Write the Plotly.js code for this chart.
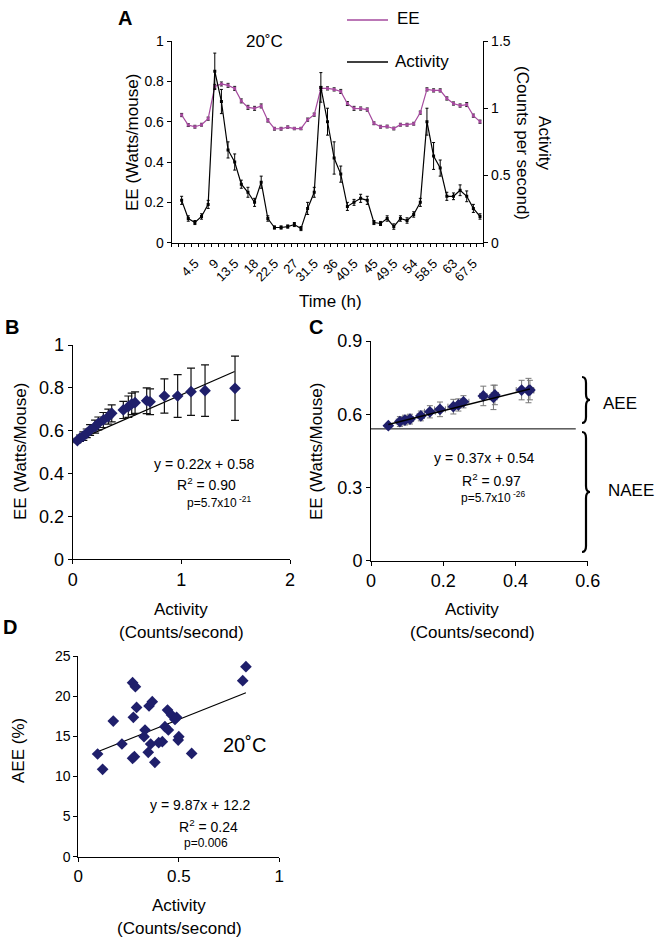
<!DOCTYPE html>
<html><head><meta charset="utf-8">
<script src="https://cdn.plot.ly/plotly-3.0.1.min.js"></script>
<style>html,body{margin:0;padding:0;background:#fff}#g{width:661px;height:942px}</style>
</head><body><div id="g"></div>
<script>
// ---------- Panel A data ----------
const timeH = [1.5,3,4.5,6,7.5,9,10.5,12,13.5,15,16.5,18,19.5,21,22.5,24,25.5,27,28.5,30,31.5,33,34.5,36,37.5,39,40.5,42,43.5,45,46.5,48,49.5,51,52.5,54,55.5,57,58.5,60,61.5,63,64.5,66,67.5,69];
const timeTicks = [4.5,9,13.5,18,22.5,27,31.5,36,40.5,45,49.5,54,58.5,63,67.5];
const eeA = [0.633,0.583,0.575,0.585,0.615,0.775,0.787,0.78,0.765,0.703,0.671,0.666,0.678,0.606,0.565,0.565,0.573,0.566,0.566,0.61,0.635,0.765,0.765,0.76,0.75,0.69,0.666,0.665,0.66,0.592,0.575,0.576,0.566,0.585,0.585,0.59,0.645,0.76,0.755,0.755,0.715,0.69,0.68,0.685,0.63,0.6];
const eeAerr = [0.008,0.007,0.007,0.007,0.008,0.01,0.01,0.01,0.01,0.01,0.01,0.01,0.01,0.008,0.007,0.007,0.006,0.006,0.006,0.008,0.008,0.01,0.008,0.008,0.01,0.01,0.01,0.008,0.008,0.007,0.007,0.007,0.007,0.007,0.007,0.007,0.008,0.008,0.008,0.008,0.008,0.008,0.008,0.01,0.008,0.008];
const actA = [0.315,0.18,0.15,0.195,0.285,1.275,1.05,0.69,0.6,0.435,0.375,0.3,0.45,0.18,0.113,0.113,0.12,0.135,0.105,0.255,0.375,1.155,0.9,0.63,0.51,0.27,0.3,0.33,0.315,0.15,0.143,0.18,0.12,0.18,0.165,0.21,0.3,0.9,0.645,0.555,0.345,0.345,0.39,0.345,0.255,0.195];
const actAerr = [0.03,0.02,0.015,0.02,0.03,0.135,0.09,0.06,0.06,0.03,0.037,0.03,0.045,0.02,0.012,0.012,0.012,0.015,0.015,0.045,0.037,0.11,0.1,0.12,0.06,0.03,0.022,0.03,0.03,0.015,0.015,0.02,0.02,0.02,0.02,0.02,0.03,0.1,0.1,0.06,0.03,0.025,0.04,0.04,0.03,0.02];

// ---------- Panel B data ----------
const actB = [0.043,0.067,0.098,0.129,0.16,0.206,0.236,0.282,0.328,0.359,0.466,0.512,0.543,0.574,0.681,0.712,0.844,0.966,1.089,1.218,1.494];
const eeB  = [0.554,0.565,0.575,0.588,0.603,0.619,0.634,0.65,0.666,0.681,0.697,0.712,0.725,0.731,0.74,0.735,0.762,0.762,0.782,0.787,0.798];
const eeBerr = [0.01,0.015,0.02,0.02,0.025,0.03,0.03,0.035,0.035,0.04,0.04,0.05,0.05,0.05,0.06,0.06,0.08,0.1,0.11,0.12,0.15];
const fitBx = [0.04,1.49];
const fitBy = [0.555,0.876];

// ---------- Panel C data ----------
const actC = [0.048,0.08,0.094,0.108,0.138,0.163,0.191,0.228,0.242,0.256,0.311,0.339,0.343,0.417,0.436,0.44];
const eeC  = [0.553,0.57,0.576,0.58,0.593,0.61,0.62,0.631,0.638,0.651,0.675,0.669,0.679,0.699,0.697,0.699];
const eeCerr = [0.01,0.02,0.02,0.02,0.02,0.025,0.03,0.03,0.025,0.025,0.04,0.05,0.04,0.04,0.05,0.04];
const actCerr = [0.005,0.01,0.01,0.01,0.01,0.015,0.015,0.015,0.015,0.015,0.01,0.01,0.01,0.015,0.015,0.01];
const fitCx = [0.048,0.44];
const fitCy = [0.558,0.703];
const naeeX = [0,0.567];
const naeeY = [0.54,0.54];

// ---------- Panel D data ----------
const actD = [0.096,0.121,0.174,0.217,0.274,0.27,0.279,0.27,0.284,0.29,0.327,0.332,0.352,0.368,0.348,0.36,0.381,0.4,0.418,0.431,0.444,0.448,0.464,0.481,0.489,0.497,0.5,0.564,0.818,0.834];
const aeeD = [12.79,10.88,16.9,14.04,17.36,12.25,12.46,21.68,21.18,18.6,14.95,15.78,18.77,19.31,13.0,14.04,11.75,14.2,14.33,16.2,18.27,15.78,17.65,17.1,17.36,14.53,14.95,12.87,21.93,23.67];
const fitDx = [0.096,0.834];
const fitDy = [13.08,20.43];

const FONT = 'Arial, "Liberation Sans", sans-serif';
const W = 661, H = 942;
const px = x => x / W, py = y => 1 - y / H;
const NAVY = '#1f1f6b';
const EEC = '#a54a9e';

const traces = [
  {x: timeH, y: eeA, type:'scatter', mode:'lines+markers', xaxis:'x', yaxis:'y',
   line:{color:EEC, width:1.2}, marker:{symbol:'square', size:3, color:EEC},
   error_y:{type:'data', array:eeAerr, color:'#222', thickness:1, width:1.5}, showlegend:false},
  {x: timeH, y: actA, type:'scatter', mode:'lines+markers', xaxis:'x', yaxis:'y2',
   line:{color:'#000', width:1.2}, marker:{symbol:'square', size:3, color:'#000'},
   error_y:{type:'data', array:actAerr, color:'#000', thickness:1, width:1.5}, showlegend:false},

  {x: fitBx, y: fitBy, type:'scatter', mode:'lines', xaxis:'x2', yaxis:'y3', line:{color:'#000', width:1.2}, showlegend:false},
  {x: actB, y: eeB, type:'scatter', mode:'markers', xaxis:'x2', yaxis:'y3',
   marker:{symbol:'diamond', size:9, color:NAVY},
   error_y:{type:'data', array:eeBerr, color:'#111', thickness:1.2, width:4}, showlegend:false},

  {x: naeeX, y: naeeY, type:'scatter', mode:'lines', xaxis:'x3', yaxis:'y4', line:{color:'#000', width:1}, showlegend:false},
  {x: actC, y: eeC, type:'scatter', mode:'markers', xaxis:'x3', yaxis:'y4',
   marker:{symbol:'diamond', size:9, color:NAVY},
   error_y:{type:'data', array:eeCerr, color:'#777', thickness:1, width:3},
   error_x:{type:'data', array:actCerr, color:'#777', thickness:1, width:3}, showlegend:false},
  {x: fitCx, y: fitCy, type:'scatter', mode:'lines', xaxis:'x3', yaxis:'y4', line:{color:'#000', width:1.5}, showlegend:false},

  {x: fitDx, y: fitDy, type:'scatter', mode:'lines', xaxis:'x4', yaxis:'y5', line:{color:'#000', width:1.2}, showlegend:false},
  {x: actD, y: aeeD, type:'scatter', mode:'markers', xaxis:'x4', yaxis:'y5',
   marker:{symbol:'diamond', size:9, color:NAVY}, showlegend:false},
];

const axBase = {showline:true, linecolor:'#000', linewidth:1, ticks:'outside', ticklen:4, tickcolor:'#000',
  showgrid:false, zeroline:false, tickfont:{family:FONT, size:14, color:'#000'}};

const layout = {
  width:W, height:H, margin:{l:0,r:0,t:0,b:0}, paper_bgcolor:'#fff', plot_bgcolor:'rgba(0,0,0,0)',
  font:{family:FONT, color:'#000'}, showlegend:false,
  xaxis: Object.assign({}, axBase, {domain:[px(171.7), px(483.3)], anchor:'y', range:[-0.75, 69.75],
     tickmode:'array', tickvals:timeTicks, ticktext:timeTicks.map(String), ticklen:0, tickangle:-45,
     ticklabelstandoff:7,
     tickfont:{family:FONT, size:13, color:'#000'},
     minor:{tickmode:'linear', tick0:0.75, dtick:1.5, ticks:'outside', ticklen:3, tickcolor:'#000', showgrid:false}}),
  yaxis: Object.assign({}, axBase, {domain:[py(242.7), py(41)], anchor:'x', range:[0,1], dtick:0.2, tickformat:'~g'}),
  yaxis2: Object.assign({}, axBase, {domain:[py(242.7), py(41)], anchor:'x', overlaying:'y', side:'right', range:[0,1.5], dtick:0.5, tickformat:'~g'}),

  xaxis2: Object.assign({}, axBase, {domain:[px(72.7), px(290)], anchor:'y3', range:[0,2], dtick:1, tickfont:{family:FONT, size:18, color:'#000'}}),
  yaxis3: Object.assign({}, axBase, {domain:[py(559.3), py(345)], anchor:'x2', range:[0,1], dtick:0.2, tickformat:'~g', tickfont:{family:FONT, size:18, color:'#000'}}),

  xaxis3: Object.assign({}, axBase, {domain:[px(371), px(587.7)], anchor:'y4', range:[0,0.6], dtick:0.2, tickformat:'~g', tickfont:{family:FONT, size:18, color:'#000'}}),
  yaxis4: Object.assign({}, axBase, {domain:[py(560.7), py(341)], anchor:'x3', range:[0,0.9], dtick:0.3, tickformat:'~g', tickfont:{family:FONT, size:18, color:'#000'}}),

  xaxis4: Object.assign({}, axBase, {domain:[px(78.3), px(279.3)], anchor:'y5', range:[0,1], dtick:0.5, tickformat:'~g', tickfont:{family:FONT, size:17, color:'#000'}}),
  yaxis5: Object.assign({}, axBase, {domain:[py(856.7), py(656)], anchor:'x4', range:[0,25], dtick:5, tickfont:{family:FONT, size:14, color:'#000'}}),
  annotations: [], shapes: []
};

function txt(x, y, text, size, opts) {
  layout.annotations.push(Object.assign({xref:'paper', yref:'paper', x:px(x), y:py(y), text:text, showarrow:false,
    font:{family:FONT, size:size, color:'#000'}, xanchor:'center', yanchor:'middle'}, opts || {}));
}
// panel letters
txt(125, 18, '<b>A</b>', 20);
txt(12, 327, '<b>B</b>', 20);
txt(316, 327, '<b>C</b>', 20);
txt(10, 627, '<b>D</b>', 20);
// Panel A texts
txt(264, 42, '20˚C', 17);
txt(410, 19, 'EE', 17, {xanchor:'left', x:px(395)});
txt(427, 62, 'Activity', 17, {xanchor:'left', x:px(393)});
txt(133, 143, 'EE (Watts/mouse)', 17, {textangle:-90});
txt(533, 143, 'Activity<br>(Counts per second)', 17, {textangle:90});
txt(330, 302, 'Time (h)', 17);
// Panel B texts
txt(20, 452, 'EE (Watts/Mouse)', 17, {textangle:-90});
txt(181, 609, 'Activity', 17);
txt(181, 632, '(Counts/second)', 17);
txt(205, 464, 'y = 0.22x + 0.58', 14);
txt(206, 484, 'R<sup>2</sup> = 0.90', 14);
txt(219, 502, 'p=5.7x10<sup> -21</sup>', 12);
// Panel C texts
txt(316, 452, 'EE (Watts/Mouse)', 17, {textangle:-90});
txt(472, 609, 'Activity', 17);
txt(472, 632, '(Counts/second)', 17);
txt(484, 458, 'y = 0.37x + 0.54', 14);
txt(491, 480, 'R<sup>2</sup> = 0.97', 14);
txt(493, 497, 'p=5.7x10<sup> -26</sup>', 12);
txt(620, 403, 'AEE', 17);
txt(631, 490, 'NAEE', 17);
// Panel D texts
txt(18, 751, 'AEE (%)', 17, {textangle:-90});
txt(179, 905, 'Activity', 17);
txt(179, 928, '(Counts/second)', 17);
txt(244, 745, '20˚C', 20);
txt(201, 805, 'y = 9.87x + 12.2', 14);
txt(208, 826, 'R<sup>2</sup> = 0.24', 14);
txt(206, 843, 'p=0.006', 12);

// legend line samples
layout.shapes.push({type:'line', xref:'paper', yref:'paper', x0:px(347), x1:px(388), y0:py(20), y1:py(20), line:{color:EEC, width:1.5}});
layout.shapes.push({type:'line', xref:'paper', yref:'paper', x0:px(347), x1:px(388), y0:py(62), y1:py(62), line:{color:'#000', width:1.5}});

// braces
function brace(x, y1, y2, w) {
  const ym = (y1 + y2) / 2, r = Math.min(6, (y2 - y1) / 6);
  const P = (a, b) => px(a).toFixed(5) + ',' + py(b).toFixed(5);
  const d = 'M' + P(x, y1) + ' Q' + P(x + w, y1) + ' ' + P(x + w, y1 + r) +
    ' L' + P(x + w, ym - r) + ' Q' + P(x + w, ym) + ' ' + P(x + 2 * w, ym) +
    ' Q' + P(x + w, ym) + ' ' + P(x + w, ym + r) + ' L' + P(x + w, y2 - r) +
    ' Q' + P(x + w, y2) + ' ' + P(x, y2);
  layout.shapes.push({type:'path', xref:'paper', yref:'paper', path:d, line:{color:'#000', width:2.2}});
}
brace(582, 377, 423, 4);
brace(582, 432, 552, 4);

Plotly.newPlot('g', traces, layout, {staticPlot:true});
</script></body></html>
